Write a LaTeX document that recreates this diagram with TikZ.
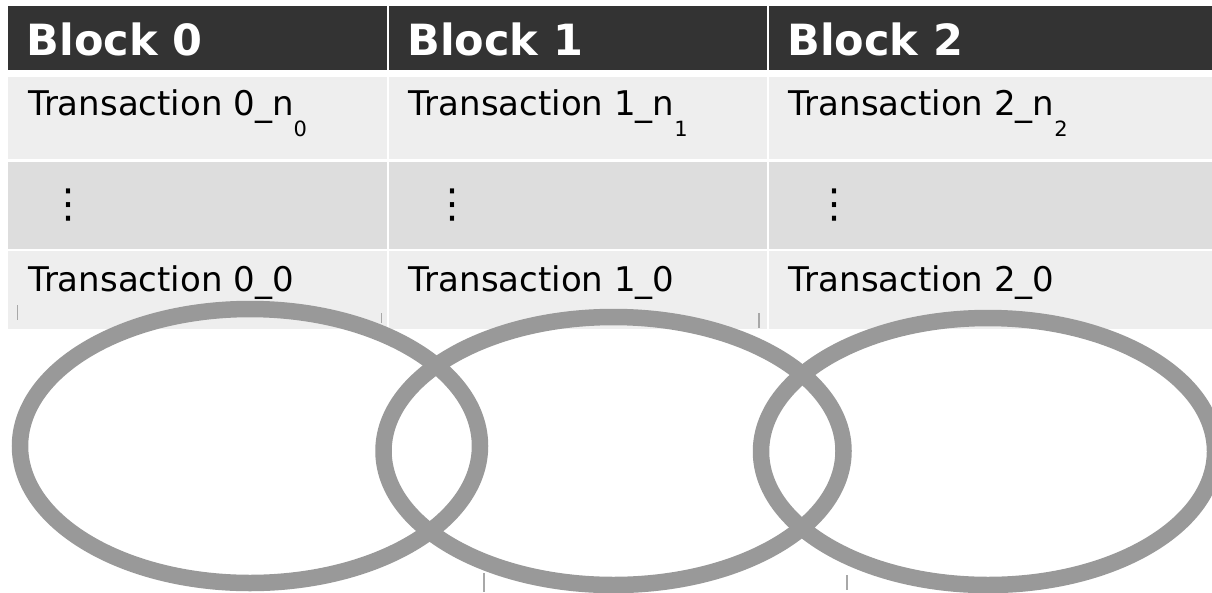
\documentclass[tikz,border=0pt]{standalone}
\usepackage{fontspec}
\setmainfont{DejaVu Sans}
\usetikzlibrary{shapes.geometric}
\definecolor{headbg}{HTML}{333333}
\definecolor{rowlight}{HTML}{EEEEEE}
\definecolor{rowdark}{HTML}{DDDDDD}
\definecolor{linkgray}{HTML}{999999}
\definecolor{tickgray}{HTML}{A8A8A8}
% lowered index after the transaction count
\newcommand\txidx[1]{\raisebox{-21pt}{\fontsize{21}{21}\selectfont #1}}
\begin{document}
\begin{tikzpicture}[x=1pt,y=-1pt,
  cellbox/.style={anchor=north west, inner sep=0pt, outer sep=0pt, draw=none},
  headtxt/.style={anchor=base west, inner sep=0pt, text=white,
    font=\fontsize{43}{48}\selectfont\bfseries},
  rowtxt/.style={anchor=base west, inner sep=0pt, text=black,
    font=\fontsize{34}{40}\selectfont},
  vdots/.style={anchor=center, inner sep=0pt, text=black,
    font=\fontsize{40}{44}\selectfont},
  chainlink/.style={ellipse, draw=linkgray, line width=16.5pt, inner sep=0pt,
    outer sep=0pt, fill=none},
  tickmark/.style={draw=tickgray, line width=1.1pt}]
\useasboundingbox (0,0) rectangle (1212,592);
\clip (0,0) rectangle (1212,592);
\fill[white] (0,0) rectangle (1212,592);

% table cells: header row and three transaction rows per block
\foreach \c/\x/\w in {0/8/378.7, 1/388.7/378, 2/768.7/443.3}{
  \node[cellbox, fill=headbg, minimum width=\w pt, minimum height=64.3pt] (head\c) at (\x,6) {};
  \node[cellbox, fill=rowlight, minimum width=\w pt, minimum height=82pt] (top\c) at (\x,77) {};
  \node[cellbox, fill=rowdark, minimum width=\w pt, minimum height=87pt] (mid\c) at (\x,162) {};
  \node[cellbox, fill=rowlight, minimum width=\w pt, minimum height=78pt] (low\c) at (\x,251) {};
}

% header labels
\node[headtxt] (lab0) at (26.5,55) {Block 0};
\node[headtxt] (lab1) at (407.2,55) {Block 1};
\node[headtxt] (lab2) at (787.2,55) {Block 2};

% newest transaction in each block
\node[rowtxt] (txn0) at (28,115.7) {Transaction 0\_n\txidx{0}};
\node[rowtxt] (txn1) at (408.7,115.7) {Transaction 1\_n\txidx{1}};
\node[rowtxt] (txn2) at (788.7,115.7) {Transaction 2\_n\txidx{2}};

% elided middle rows
\node[vdots] (dots0) at (68,205.5) {⋮};
\node[vdots] (dots1) at (452,205.5) {⋮};
\node[vdots] (dots2) at (834,205.5) {⋮};

% first transaction in each block
\node[rowtxt] (tx00) at (28,291.7) {Transaction 0\_0};
\node[rowtxt] (tx10) at (408.7,291.7) {Transaction 1\_0};
\node[rowtxt] (tx20) at (788.7,291.7) {Transaction 2\_0};

% interlocking chain links below the blocks
\node[chainlink, minimum width=460pt, minimum height=274pt] (link0) at (250,446) {};
\node[chainlink, minimum width=460pt, minimum height=268pt] (link1) at (613.5,451) {};
\node[chainlink, minimum width=454pt, minimum height=267pt] (link2) at (988,451.5) {};

% short stub lines
\draw[tickmark] (17.3,305) -- (17.3,320);
\draw[tickmark] (381.5,313) -- (381.5,323);
\draw[tickmark] (759,313) -- (759,328);
\draw[tickmark] (484,573) -- (484,592);
\draw[tickmark] (847,575) -- (847,590);
\end{tikzpicture}
\end{document}
